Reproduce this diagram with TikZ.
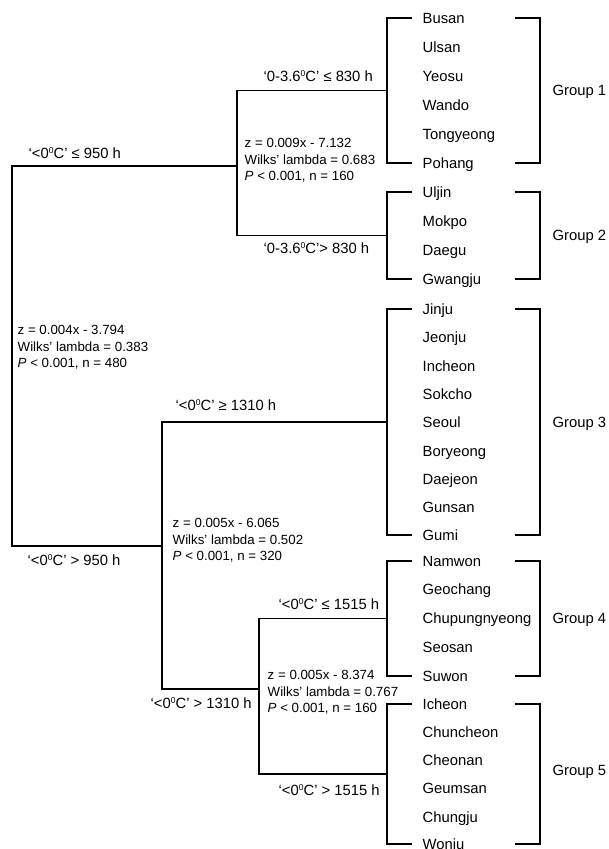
\documentclass[tikz,border=0pt]{standalone}
\usepackage{fontspec}
\setmainfont{Liberation Sans}
\usetikzlibrary{calc}
\newcommand\grpbracket[2]{%
  \draw ($(#1.base west)+(-10,-5)$) -- ++(-25,0) |- ($(#2.base west)+(-10,-5)$);
  \draw ($(#1.base west)+(93,-5)$) -- ++(25,0) |- ($(#2.base west)+(93,-5)$);
}
\newcommand\degz{{\fontsize{8.5}{8.5}\selectfont\raisebox{4.6pt}{0}}}
\begin{document}
\begin{tikzpicture}[x=1pt,y=-1pt,line width=1.4pt,
  st/.style={anchor=base west,inner sep=0pt,font=\fontsize{14.8}{17}\selectfont},
  lab/.style={anchor=base west,inner sep=0pt,font=\fontsize{14.8}{17}\selectfont},
  grp/.style={anchor=base west,inner sep=0pt,font=\fontsize{14.8}{17}\selectfont},
  stat/.style={anchor=north west,inner sep=0pt,align=left,font=\fontsize{13.3}{16.5}\selectfont}]
\useasboundingbox (0,0) rectangle (609,849);
\clip (0,0) rectangle (609,849);
% stations
\node[st] (busan) at (422,23) {Busan};
\node[st] (ulsan) at (422,52.5) {Ulsan};
\node[st] (yeosu) at (422,81.5) {Yeosu};
\node[st] (wando) at (422,110.5) {Wando};
\node[st] (tongyeong) at (422,139.5) {Tongyeong};
\node[st] (pohang) at (422,168) {Pohang};
\node[st] (uljin) at (422,197) {Uljin};
\node[st] (mokpo) at (422,226) {Mokpo};
\node[st] (daegu) at (422,255) {Daegu};
\node[st] (gwangju) at (422,284) {Gwangju};
\node[st] (jinju) at (422,314) {Jinju};
\node[st] (jeonju) at (422,342) {Jeonju};
\node[st] (incheon) at (422,371) {Incheon};
\node[st] (sokcho) at (422,399) {Sokcho};
\node[st] (seoul) at (422,427) {Seoul};
\node[st] (boryeong) at (422,456) {Boryeong};
\node[st] (daejeon) at (422,484) {Daejeon};
\node[st] (gunsan) at (422,512) {Gunsan};
\node[st] (gumi) at (422,540) {Gumi};
\node[st] (namwon) at (422,566) {Namwon};
\node[st] (geochang) at (422,594) {Geochang};
\node[st] (chupung) at (422,623) {Chupungnyeong};
\node[st] (seosan) at (422,652) {Seosan};
\node[st] (suwon) at (422,681) {Suwon};
\node[st] (icheon) at (422,709) {Icheon};
\node[st] (chuncheon) at (422,737) {Chuncheon};
\node[st] (cheonan) at (422,765) {Cheonan};
\node[st] (geumsan) at (422,793) {Geumsan};
\node[st] (chungju) at (422,822) {Chungju};
\node[st] (wonju) at (422,849) {Wonju};
% brackets
\grpbracket{busan}{pohang}
\grpbracket{uljin}{gwangju}
\grpbracket{jinju}{gumi}
\grpbracket{namwon}{suwon}
\grpbracket{icheon}{wonju}
% group labels
\node[grp] (grp1) at (552,95) {Group 1};
\node[grp] (grp2) at (552,240) {Group 2};
\node[grp] (grp3) at (552,427) {Group 3};
\node[grp] (grp4) at (552,623) {Group 4};
\node[grp] (grp5) at (552,775) {Group 5};
% tree coordinates
\coordinate (g1m) at (387,90.5);
\coordinate (g2m) at (387,235.5);
\coordinate (g3m) at (387,422);
\coordinate (g4m) at (387,618.5);
\coordinate (g5m) at (387,774);
\coordinate (rt) at (12,166);
\coordinate (rb) at (12,546);
\coordinate (n1) at (237,166);
\coordinate (n2) at (162,546);
\coordinate (n3) at (259,689);
% connectors
\draw (n1) -- (rt) -- (rb) -- (n2);
\draw (g1m) -| (n1) |- (g2m);
\draw (g3m) -| (n2) |- (n3);
\draw (g4m) -| (n3) |- (g5m);
% branch labels
\node[lab] (l1) at (28,158) {‘<0\degz C’ ≤ 950 h};
\node[lab] (l2) at (27,565) {‘<0\degz C’ > 950 h};
\node[lab] (l3) at (263,81) {‘0-3.6\degz C’ ≤ 830 h};
\node[lab] (l4) at (263,253) {‘0-3.6\degz C’> 830 h};
\node[lab] (l5) at (175,410) {‘<0\degz C’ ≥ 1310 h};
\node[lab] (l6) at (150,708) {‘<0\degz C’ > 1310 h};
\node[lab] (l7) at (278,609) {‘<0\degz C’ ≤ 1515 h};
\node[lab] (l8) at (278,795) {‘<0\degz C’ > 1515 h};
% statistics
\node[stat] (s0) at (17,325) {z = 0.004x - 3.794\\Wilks’ lambda = 0.383\\\textit{P} < 0.001, n = 480};
\node[stat] (s1) at (244,138) {z = 0.009x - 7.132\\Wilks’ lambda = 0.683\\\textit{P} < 0.001, n = 160};
\node[stat] (s2) at (172,518) {z = 0.005x - 6.065\\Wilks’ lambda = 0.502\\\textit{P} < 0.001, n = 320};
\node[stat] (s3) at (267,670) {z = 0.005x - 8.374\\Wilks’ lambda = 0.767\\\textit{P} < 0.001, n = 160};
\end{tikzpicture}
\end{document}
